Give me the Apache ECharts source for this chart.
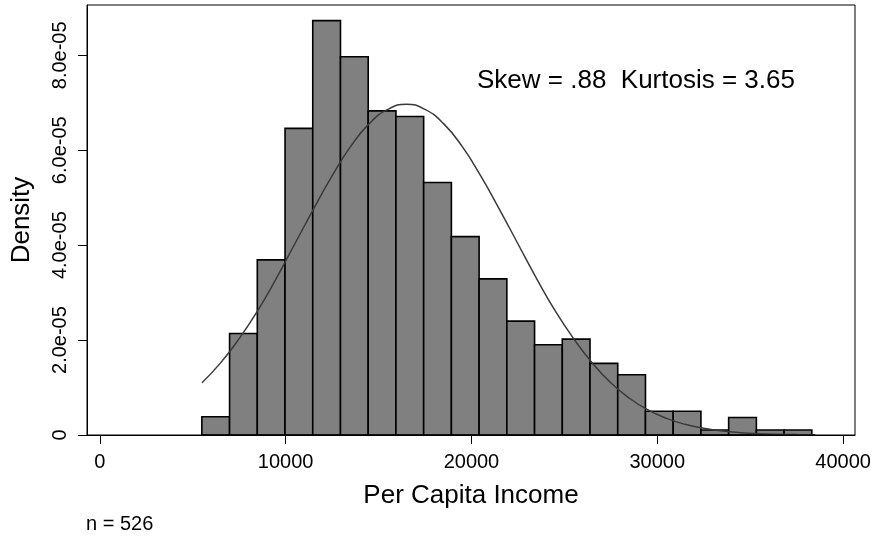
<!DOCTYPE html>
<html><head><meta charset="utf-8">
<script src="https://cdn.jsdelivr.net/npm/echarts@6/dist/echarts.min.js"></script>
<style>html,body{margin:0;padding:0;background:#fff}#c{width:879px;height:544px}</style>
</head><body><div id="c"></div>
<script>
const binStart = 5493;
const binWidth = 1492;
const densities = [0.386,2.14,3.69,6.46,8.73,7.97,6.83,6.71,5.32,4.18,3.29,2.40,1.90,2.02,1.51,1.27,0.50,0.50,0.105,0.37,0.105,0.105]; // x 1e-5
const curveX = [5500,6500,7500,8500,9500,10500,11500,12500,13500,14500,15500,16500,17500,18500,19500,20500,21500,22500,23500,24500,25500,26500,27500,28500,29500,30500,31500,32500,33500,34500,35500,36500,37500,38500];
const curveY = [1.10,1.52,2.03,2.62,3.30,4.03,4.76,5.46,6.08,6.56,6.86,6.97,6.86,6.56,6.08,5.46,4.76,4.03,3.30,2.62,2.03,1.52,1.10,0.774,0.528,0.350,0.225,0.140,0.085,0.049,0.028,0.015,0.008,0.004]; // x 1e-5
const xTicks = [0,10000,20000,30000,40000];
const yTicks = [0,2e-5,4e-5,6e-5,8e-5];

const bars = densities.map((d,i)=>[binStart+i*binWidth, binStart+(i+1)*binWidth, d*1e-5]);
const curve = curveX.map((x,i)=>[x, curveY[i]*1e-5]);
const font = 'Liberation Sans, Arial, sans-serif';
const chart = echarts.init(document.getElementById('c'));
chart.setOption({
  animation:false,
  grid:{left:87,right:24,top:5,bottom:109,outerBoundsMode:'none',containLabel:false},
  xAxis:{type:'value',min:-687,max:40640,
    axisLine:{show:true,onZero:false,lineStyle:{color:'#000'}},
    axisTick:{show:true,customValues:xTicks,length:9,lineStyle:{color:'#000'}},
    axisLabel:{customValues:xTicks,color:'#000',fontSize:20,fontFamily:font,margin:17,formatter:v=>String(v)},
    splitLine:{show:false},
    name:'Per Capita Income',nameLocation:'middle',nameGap:48,
    nameTextStyle:{color:'#000',fontSize:26,fontFamily:font}},
  yAxis:{type:'value',min:0,max:9.06e-5,
    axisLine:{show:true,onZero:false,lineStyle:{color:'#000'}},
    axisTick:{show:true,customValues:yTicks,length:9,lineStyle:{color:'#000'}},
    axisLabel:{customValues:yTicks,rotate:90,color:'#000',fontSize:20,fontFamily:font,margin:17,
      formatter:v=>v===0?'0':v.toExponential(1).replace(/e-(\d)$/,'e-0$1')},
    splitLine:{show:false},
    name:'Density',nameLocation:'middle',nameGap:52,
    nameTextStyle:{color:'#000',fontSize:26,fontFamily:font}},
  graphic:[
    {type:'rect',shape:{x:87,y:5,width:768,height:430},style:{fill:'none',stroke:'#000',lineWidth:1},z:100,silent:true},
    {type:'text',left:477,top:68,style:{text:'Skew = .88  Kurtosis = 3.65',fill:'#000',fontSize:26,fontFamily:font}},
    {type:'text',left:86,top:514,style:{text:'n = 526',fill:'#000',fontSize:20,fontFamily:font}}
  ],
  series:[
    {type:'custom',data:bars,renderItem:(params,api)=>{
      const p0=api.coord([api.value(0),api.value(2)]);
      const p1=api.coord([api.value(1),0]);
      return {type:'rect',shape:{x:p0[0],y:p0[1],width:p1[0]-p0[0],height:p1[1]-p0[1]},
        style:{fill:'#808080',stroke:'#000',lineWidth:1.6}};
    },encode:{x:[0,1],y:2},z:2},
    {type:'line',data:curve,showSymbol:false,smooth:true,lineStyle:{color:'#3a3a3a',width:1.5},z:3}
  ]
});
</script></body></html>
